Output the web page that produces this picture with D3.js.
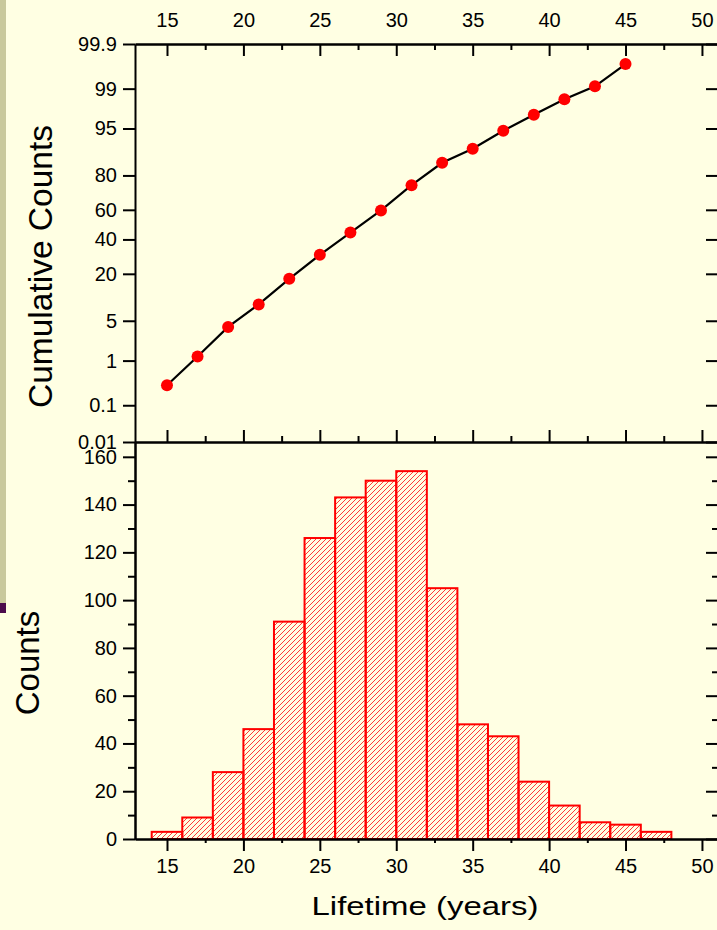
<!DOCTYPE html>
<html>
<head>
<meta charset="utf-8">
<script src="https://cdn.jsdelivr.net/npm/d3@7"></script>
<style>
  html, body { margin: 0; padding: 0; background: #ffffe3; }
  svg { display: block; }
  text { font-family: "Liberation Sans", Arial, Helvetica, sans-serif; fill: #000; }
</style>
</head>
<body>
<svg id="chart" width="717" height="930"></svg>
<script>
// Lifetime bins (bin centres, years) and counts per bin
const binCenters = [15, 17, 19, 21, 23, 25, 27, 29, 31, 33, 35, 37, 39, 41, 43, 45, 47];
const counts     = [3, 9, 28, 46, 91, 126, 143, 150, 154, 105, 48, 43, 24, 14, 7, 6, 3];
const binWidth = 2;

// Cumulative percentage at each bin
const cumX   = [15, 17, 19, 21, 23, 25, 27, 29, 31, 33, 35, 37, 39, 41, 43, 45];
const cumPct = [0.3, 1.2, 4.0, 8.6, 17.7, 30.3, 44.6, 59.6, 75.0, 85.5, 90.3, 94.6, 97.0, 98.4, 99.1, 99.7];

// Tick values / labels
const xMajor = [15, 20, 25, 30, 35, 40, 45, 50];
const xMinor = [17.5, 22.5, 27.5, 32.5, 37.5, 42.5, 47.5];
const probTicks  = [0.01, 0.1, 1, 5, 20, 40, 60, 80, 95, 99, 99.9];
const probLabels = ["0.01", "0.1", "1", "5", "20", "40", "60", "80", "95", "99", "99.9"];
const countMajor = [0, 20, 40, 60, 80, 100, 120, 140, 160];
const countMinor = [10, 30, 50, 70, 90, 110, 130, 150];

// Inverse standard normal CDF (Acklam) for the probability axis
function probit(p) {
  const a = [-3.969683028665376e+01, 2.209460984245205e+02, -2.759285104469687e+02, 1.383577518672690e+02, -3.066479806614716e+01, 2.506628277459239e+00];
  const b = [-5.447609879822406e+01, 1.615858368580409e+02, -1.556989798598866e+02, 6.680131188771972e+01, -1.328068155288572e+01];
  const c = [-7.784894002430293e-03, -3.223964580411365e-01, -2.400758277161838e+00, -2.549732539343734e+00, 4.374664141464968e+00, 2.938163982698783e+00];
  const d = [7.784695709041462e-03, 3.224671290700398e-01, 2.445134137142996e+00, 3.754408661907416e+00];
  const pl = 0.02425, ph = 1 - pl;
  if (p < pl) {
    const q = Math.sqrt(-2 * Math.log(p));
    return (((((c[0]*q+c[1])*q+c[2])*q+c[3])*q+c[4])*q+c[5]) / ((((d[0]*q+d[1])*q+d[2])*q+d[3])*q+1);
  }
  if (p <= ph) {
    const q = p - 0.5, r = q * q;
    return (((((a[0]*r+a[1])*r+a[2])*r+a[3])*r+a[4])*r+a[5])*q / (((((b[0]*r+b[1])*r+b[2])*r+b[3])*r+b[4])*r+1);
  }
  const q = Math.sqrt(-2 * Math.log(1 - p));
  return -(((((c[0]*q+c[1])*q+c[2])*q+c[3])*q+c[4])*q+c[5]) / ((((d[0]*q+d[1])*q+d[2])*q+d[3])*q+1);
}
const z = pct => probit(pct / 100);

const svg = d3.select("#chart");

// Frame geometry
const left = 135, right = 718;
const topY = 44, midY = 442, botY = 839;

// Decorative slide strip on the far left
svg.append("rect").attr("x", 0).attr("y", 0).attr("width", 6).attr("height", 603).attr("fill", "#c9c99c");
svg.append("rect").attr("x", 0).attr("y", 603).attr("width", 6).attr("height", 10).attr("fill", "#4c0c4c");

// Scales
const x = d3.scaleLinear().domain([12.907, 51.05]).range([left, right]);
const yProb = d3.scaleLinear().domain([z(0.01), z(99.9)]).range([midY, topY]);
const yCount = d3.scaleLinear().domain([0, 166.2]).range([botY, midY]);

// Hatch pattern for the histogram bars
const defs = svg.append("defs");
const pat = defs.append("pattern")
  .attr("id", "hatch").attr("patternUnits", "userSpaceOnUse")
  .attr("width", 5).attr("height", 5);
pat.append("path")
  .attr("d", "M-1,1 l2,-2 M0,5 l5,-5 M4,6 l2,-2")
  .attr("stroke", "#ff3a3a").attr("stroke-width", 1).attr("fill", "none");

// Histogram bars
svg.append("g").selectAll("rect").data(binCenters).join("rect")
  .attr("x", (d) => x(d - binWidth / 2))
  .attr("y", (d, i) => yCount(counts[i]))
  .attr("width", (d) => x(d + binWidth / 2) - x(d - binWidth / 2))
  .attr("height", (d, i) => yCount(0) - yCount(counts[i]))
  .attr("fill", "url(#hatch)")
  .attr("stroke", "#ff0000").attr("stroke-width", 2);

// Cumulative curve
const pts = cumX.map((v, i) => [x(v), yProb(z(cumPct[i]))]);
svg.append("path")
  .attr("d", d3.line()(pts))
  .attr("fill", "none").attr("stroke", "#000").attr("stroke-width", 2.2);
svg.append("g").selectAll("circle").data(pts).join("circle")
  .attr("cx", d => d[0]).attr("cy", d => d[1]).attr("r", 6)
  .attr("fill", "#ff0000");

// Axis helper
function styleAxis(g) {
  g.selectAll("path.domain").attr("stroke", "#000").attr("stroke-width", 2);
  g.selectAll(".tick line").attr("stroke", "#000").attr("stroke-width", 2);
  g.selectAll("text").attr("font-size", 20).attr("fill", "#000")
    .attr("font-family", '"Liberation Sans", Arial, sans-serif');
  return g;
}
function addAxis(axis, tx, ty) {
  const g = svg.append("g").attr("transform", `translate(${tx},${ty})`).call(axis);
  return styleAxis(g);
}

// ---- Top panel (probability) ----
addAxis(d3.axisTop(x).tickValues(xMajor).tickSizeInner(-12).tickSizeOuter(0).tickPadding(17), 0, topY);
addAxis(d3.axisTop(x).tickValues(xMinor).tickSizeInner(-6).tickSizeOuter(0).tickFormat(""), 0, topY);
addAxis(d3.axisBottom(x).tickValues(xMajor).tickSizeInner(-12).tickSizeOuter(0).tickFormat(""), 0, midY);
addAxis(d3.axisBottom(x).tickValues(xMinor).tickSizeInner(-6).tickSizeOuter(0).tickFormat(""), 0, midY);
addAxis(d3.axisLeft(yProb).tickValues(probTicks.map(z)).tickSizeInner(12).tickSizeOuter(0).tickPadding(6)
  .tickFormat((d, i) => probLabels[i]), left, 0);
addAxis(d3.axisRight(yProb).tickValues(probTicks.map(z)).tickSizeInner(-12).tickSizeOuter(0).tickFormat(""), right, 0);

// ---- Bottom panel (histogram) ----
addAxis(d3.axisBottom(x).tickValues(xMajor).tickSizeInner(12).tickSizeOuter(0).tickPadding(8), 0, botY);
addAxis(d3.axisBottom(x).tickValues(xMinor).tickSizeInner(4).tickSizeOuter(0).tickFormat(""), 0, botY);
addAxis(d3.axisLeft(yCount).tickValues(countMajor).tickSizeInner(12).tickSizeOuter(0).tickPadding(6), left, 0);
addAxis(d3.axisLeft(yCount).tickValues(countMinor).tickSizeInner(7).tickSizeOuter(0).tickFormat(""), left, 0);
addAxis(d3.axisRight(yCount).tickValues(countMajor).tickSizeInner(-12).tickSizeOuter(0).tickFormat(""), right, 0);
addAxis(d3.axisRight(yCount).tickValues(countMinor).tickSizeInner(-6).tickSizeOuter(0).tickFormat(""), right, 0);

// Axis titles
svg.append("text")
  .attr("transform", "translate(52,266.5) rotate(-90)")
  .attr("text-anchor", "middle").attr("font-size", 33.5)
  .text("Cumulative Counts");
svg.append("text")
  .attr("transform", "translate(39,663) rotate(-90)")
  .attr("text-anchor", "middle").attr("font-size", 33)
  .text("Counts");
svg.append("text")
  .attr("x", 425).attr("y", 915)
  .attr("text-anchor", "middle").attr("font-size", 26)
  .attr("textLength", 227).attr("lengthAdjust", "spacingAndGlyphs")
  .text("Lifetime (years)");
</script>
</body>
</html>
